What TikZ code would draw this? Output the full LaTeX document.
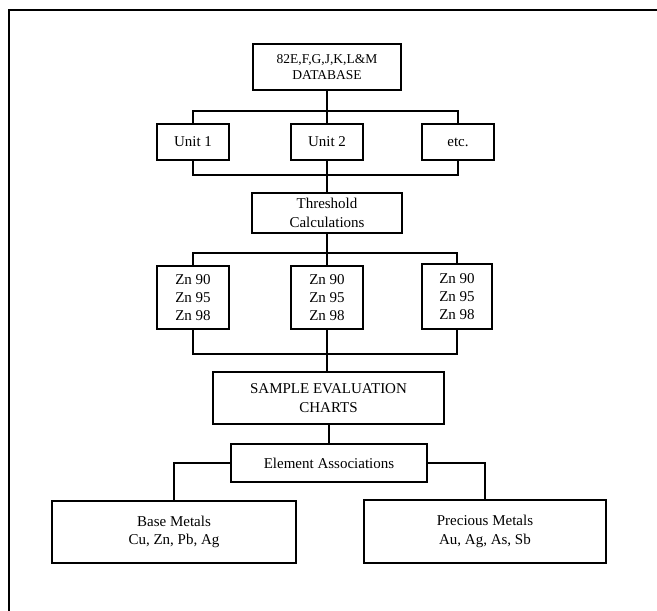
\documentclass[tikz,border=0pt]{standalone}
\usepackage{fontspec}
\setmainfont{Liberation Serif}

\begin{document}
\begin{tikzpicture}[x=1pt,y=-1pt,line width=1.2pt,line join=miter,
  every node/.style={font=\fontsize{15}{18.3}\selectfont},
  box/.style={draw,align=center,inner sep=0pt}]
  \useasboundingbox (0,0) rectangle (657,611);
  % frame
  \draw[line width=1.4pt] (8,10) -- (657,10);
  \draw[line width=1.4pt] (9,10) -- (9,611);
  % boxes
  \node[box,minimum width=148pt,minimum height=46pt,
    font=\fontsize{13.5}{15.5}\selectfont] (db) at (327,67) {82E,F,G,J,K,L\&M\\DATABASE};
  \node[box,minimum width=72pt,minimum height=36pt] (unitA) at (193,142) {Unit 1};
  \node[box,minimum width=72pt,minimum height=36pt] (unitB) at (327,142) {Unit 2};
  \node[box,minimum width=72pt,minimum height=36pt] (unitC) at (458,142) {etc.};
  \node[box,minimum width=150pt,minimum height=40pt] (thresh) at (327,213) {Threshold\\Calculations};
  \node[box,minimum width=72pt,minimum height=63pt] (znA) at (193,297.5) {Zn 90\\Zn 95\\Zn 98};
  \node[box,minimum width=72pt,minimum height=63pt] (znB) at (327,297.5) {Zn 90\\Zn 95\\Zn 98};
  \node[box,minimum width=70pt,minimum height=65pt] (znC) at (457,296.5) {Zn 90\\Zn 95\\Zn 98};
  \node[box,minimum width=231pt,minimum height=52pt] (sample) at (328.5,398) {SAMPLE EVALUATION\\CHARTS};
  \node[box,minimum width=196pt,minimum height=38pt] (assoc) at (329,463) {Element Associations};
  \node[box,minimum width=244pt,minimum height=62pt] (base) at (174,532) {Base Metals\\Cu, Zn, Pb, Ag};
  \node[box,minimum width=242pt,minimum height=63pt] (precious) at (485,531.5) {Precious Metals\\Au, Ag, As, Sb};
  % buses
  \coordinate (unitTop) at (327,111);
  \coordinate (unitBot) at (327,175);
  \coordinate (znTop) at (327,253);
  \coordinate (znBot) at (327,354);
  % connectors
  \draw (db) -- (unitB);
  \draw (unitA.north) |- (unitTop) -| (unitC.north);
  \draw (unitB) -- (thresh);
  \draw (unitA.south) |- (unitBot) -| (unitC.south);
  \draw (thresh) -- (znB);
  \draw (znA.north) |- (znTop) -| (znC.north);
  \draw (znB.south) -- (sample.north -| znB.south);
  \draw (znA.south) |- (znBot) -| (znC.south);
  \draw (sample.south -| assoc.north) -- (assoc.north);
  \draw (assoc.west) -| (base.north);
  \draw (assoc.east) -| (precious.north);
\end{tikzpicture}
\end{document}
